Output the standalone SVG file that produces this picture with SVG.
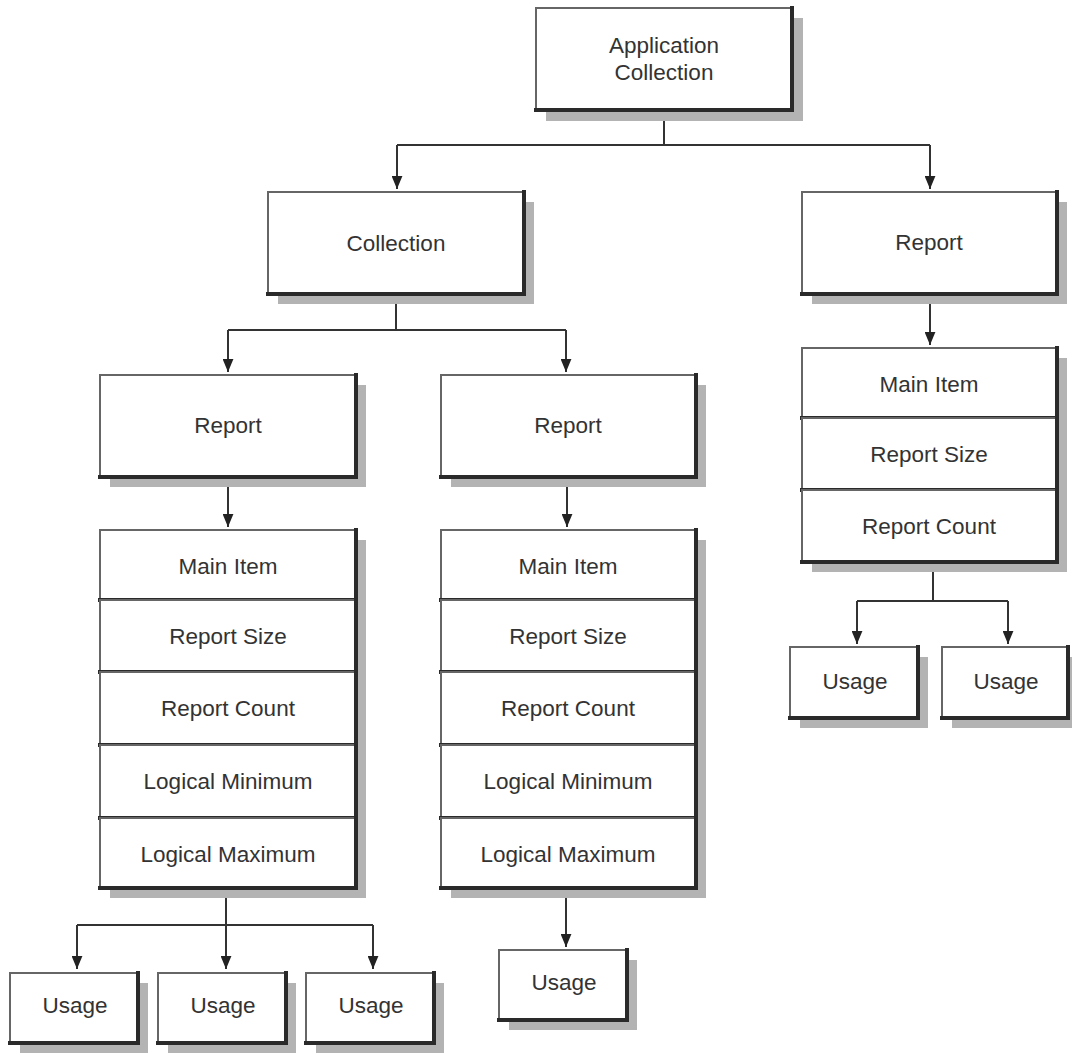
<svg xmlns="http://www.w3.org/2000/svg" width="1072" height="1055" viewBox="0 0 1072 1055">
<style>
.sh{fill:#b3b3b3}
.bx{fill:#fff;stroke:#666;stroke-width:2}
.hv{fill:none;stroke:#2a2a2a;stroke-width:4;stroke-linecap:square}
.t{font-family:"Liberation Sans",Arial,sans-serif;font-size:22.5px;fill:#333;text-anchor:middle;dominant-baseline:central}
.c{fill:none;stroke:#333;stroke-width:2}
</style>
<defs>
<marker id="a" viewBox="0 0 12 10" refX="12" refY="5" markerWidth="13" markerHeight="11" markerUnits="userSpaceOnUse" orient="auto">
<path d="M0,0L12,5L0,10z" fill="#222"/>
</marker>
</defs>
<rect width="1072" height="1055" fill="#fff"/>
<g id="connectors">
<path class="c" d="M664,112V145M397,145H930"/>
<path class="c" d="M397,145V189" marker-end="url(#a)"/>
<path class="c" d="M930,145V189" marker-end="url(#a)"/>
<path class="c" d="M396,296V330M228,330H566"/>
<path class="c" d="M228,330V372" marker-end="url(#a)"/>
<path class="c" d="M566,330V372" marker-end="url(#a)"/>
<path class="c" d="M930,296V345" marker-end="url(#a)"/>
<path class="c" d="M228,479V527" marker-end="url(#a)"/>
<path class="c" d="M567,479V527" marker-end="url(#a)"/>
<path class="c" d="M226,890V969" marker-end="url(#a)"/>
<path class="c" d="M77,925H373"/>
<path class="c" d="M77,925V969" marker-end="url(#a)"/>
<path class="c" d="M373,925V969" marker-end="url(#a)"/>
<path class="c" d="M566,890V947" marker-end="url(#a)"/>
<path class="c" d="M933,564V601M857,601H1008"/>
<path class="c" d="M857,601V644" marker-end="url(#a)"/>
<path class="c" d="M1008,601V644" marker-end="url(#a)"/>
</g>
<g id="app-collection">
<rect class="sh" x="546" y="18" width="257" height="103"/>
<rect class="bx" x="536" y="8" width="256" height="102"/>
<path class="hv" d="M536,110H792V8"/>
<text class="t" x="664" y="45">Application</text>
<text class="t" x="664" y="72">Collection</text>
</g>
<g id="collection">
<rect class="sh" x="278" y="202" width="256" height="102"/>
<rect class="bx" x="268" y="192" width="256" height="102"/>
<path class="hv" d="M268,294H524V192"/>
<text class="t" x="396" y="243">Collection</text>
</g>
<g id="report-top-right">
<rect class="sh" x="812" y="202" width="255" height="102"/>
<rect class="bx" x="802" y="192" width="255" height="102"/>
<path class="hv" d="M802,294H1057V192"/>
<text class="t" x="929" y="242">Report</text>
</g>
<g id="report-left">
<rect class="sh" x="110" y="385" width="256" height="102"/>
<rect class="bx" x="100" y="375" width="256" height="102"/>
<path class="hv" d="M100,477H356V375"/>
<text class="t" x="228" y="425">Report</text>
</g>
<g id="report-mid">
<rect class="sh" x="451" y="385" width="255" height="102"/>
<rect class="bx" x="441" y="375" width="255" height="102"/>
<path class="hv" d="M441,477H696V375"/>
<text class="t" x="568" y="425">Report</text>
</g>
<g id="stack-left">
<rect class="sh" x="110" y="540" width="256" height="358"/>
<rect class="bx" x="100" y="530" width="256" height="70"/>
<path class="hv" d="M100,600H356V530"/>
<text class="t" x="228" y="566">Main Item</text>
<rect class="bx" x="100" y="600" width="256" height="72"/>
<path class="hv" d="M100,672H356V600"/>
<text class="t" x="228" y="636">Report Size</text>
<rect class="bx" x="100" y="672" width="256" height="73"/>
<path class="hv" d="M100,745H356V672"/>
<text class="t" x="228" y="708">Report Count</text>
<rect class="bx" x="100" y="745" width="256" height="73"/>
<path class="hv" d="M100,818H356V745"/>
<text class="t" x="228" y="781">Logical Minimum</text>
<rect class="bx" x="100" y="818" width="256" height="70"/>
<path class="hv" d="M100,888H356V818"/>
<text class="t" x="228" y="854">Logical Maximum</text>
</g>
<g id="stack-mid">
<rect class="sh" x="451" y="540" width="255" height="358"/>
<rect class="bx" x="441" y="530" width="255" height="70"/>
<path class="hv" d="M441,600H696V530"/>
<text class="t" x="568" y="566">Main Item</text>
<rect class="bx" x="441" y="600" width="255" height="72"/>
<path class="hv" d="M441,672H696V600"/>
<text class="t" x="568" y="636">Report Size</text>
<rect class="bx" x="441" y="672" width="255" height="73"/>
<path class="hv" d="M441,745H696V672"/>
<text class="t" x="568" y="708">Report Count</text>
<rect class="bx" x="441" y="745" width="255" height="73"/>
<path class="hv" d="M441,818H696V745"/>
<text class="t" x="568" y="781">Logical Minimum</text>
<rect class="bx" x="441" y="818" width="255" height="70"/>
<path class="hv" d="M441,888H696V818"/>
<text class="t" x="568" y="854">Logical Maximum</text>
</g>
<g id="stack-right">
<rect class="sh" x="812" y="358" width="255" height="214"/>
<rect class="bx" x="802" y="348" width="255" height="70"/>
<path class="hv" d="M802,418H1057V348"/>
<text class="t" x="929" y="384">Main Item</text>
<rect class="bx" x="802" y="418" width="255" height="72"/>
<path class="hv" d="M802,490H1057V418"/>
<text class="t" x="929" y="454">Report Size</text>
<rect class="bx" x="802" y="490" width="255" height="72"/>
<path class="hv" d="M802,562H1057V490"/>
<text class="t" x="929" y="526">Report Count</text>
</g>
<g id="usage-1">
<rect class="sh" x="20" y="983" width="128" height="70"/>
<rect class="bx" x="10" y="973" width="128" height="70"/>
<path class="hv" d="M10,1043H138V973"/>
<text class="t" x="75" y="1005">Usage</text>
</g>
<g id="usage-2">
<rect class="sh" x="168" y="983" width="128" height="70"/>
<rect class="bx" x="158" y="973" width="128" height="70"/>
<path class="hv" d="M158,1043H286V973"/>
<text class="t" x="223" y="1005">Usage</text>
</g>
<g id="usage-3">
<rect class="sh" x="316" y="983" width="128" height="70"/>
<rect class="bx" x="306" y="973" width="128" height="70"/>
<path class="hv" d="M306,1043H434V973"/>
<text class="t" x="371" y="1005">Usage</text>
</g>
<g id="usage-4">
<rect class="sh" x="509" y="960" width="128" height="70"/>
<rect class="bx" x="499" y="950" width="128" height="70"/>
<path class="hv" d="M499,1020H627V950"/>
<text class="t" x="564" y="982">Usage</text>
</g>
<g id="usage-5">
<rect class="sh" x="800" y="657" width="128" height="71"/>
<rect class="bx" x="790" y="647" width="128" height="71"/>
<path class="hv" d="M790,718H918V647"/>
<text class="t" x="855" y="681">Usage</text>
</g>
<g id="usage-6">
<rect class="sh" x="952" y="657" width="126" height="71"/>
<rect class="bx" x="942" y="647" width="126" height="71"/>
<path class="hv" d="M942,718H1068V647"/>
<text class="t" x="1006" y="681">Usage</text>
</g>
</svg>
